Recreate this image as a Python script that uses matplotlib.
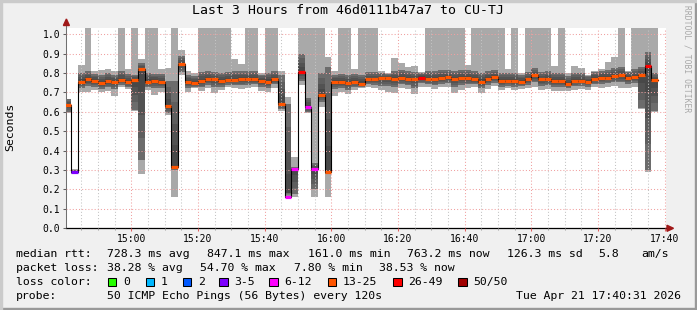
import numpy as np
import pandas as pd
import matplotlib
matplotlib.use("Agg")
import matplotlib.pyplot as plt
import matplotlib.dates as mdates
from matplotlib.ticker import MultipleLocator, FormatStrFormatter
from matplotlib.patches import Polygon, Rectangle

plt.rcParams['font.family'] = ['DejaVu Sans Mono']

# ---------------- data (seconds) ----------------
median = [0.636, 0.292, 0.756, 0.768, 0.761, 0.751, 0.760, 0.756, 0.766, 0.756,
          0.766, 0.820, 0.756, 0.760, 0.756, 0.632, 0.316, 0.847, 0.756, 0.749,
          0.760, 0.771, 0.768, 0.761, 0.766, 0.766, 0.771, 0.771, 0.771, 0.761,
          0.756, 0.771, 0.643, 0.161, 0.306, 0.808, 0.627, 0.306, 0.689, 0.292,
          0.756, 0.756, 0.751, 0.756, 0.746, 0.768, 0.768, 0.773, 0.777, 0.768,
          0.777, 0.771, 0.768, 0.777, 0.771, 0.771, 0.777, 0.780, 0.771, 0.777,
          0.777, 0.768, 0.756, 0.771, 0.780, 0.761, 0.761, 0.761, 0.756, 0.768,
          0.789, 0.768, 0.771, 0.761, 0.761, 0.746, 0.761, 0.761, 0.756, 0.771,
          0.777, 0.777, 0.785, 0.790, 0.777, 0.782, 0.790, 0.838, 0.763]

smoke_lo = [0.593, 0.278, 0.704, 0.704, 0.713, 0.704, 0.708, 0.684, 0.730, 0.718,
            0.605, 0.282, 0.713, 0.687, 0.704, 0.585, 0.163, 0.790, 0.704, 0.722,
            0.708, 0.722, 0.698, 0.713, 0.729, 0.722, 0.718, 0.722, 0.730, 0.708,
            0.704, 0.725, 0.605, 0.162, 0.162, 0.739, 0.593, 0.162, 0.627, 0.162,
            0.684, 0.704, 0.694, 0.713, 0.722, 0.730, 0.722, 0.713, 0.704, 0.698,
            0.722, 0.718, 0.692, 0.730, 0.730, 0.718, 0.730, 0.730, 0.698, 0.713,
            0.722, 0.729, 0.698, 0.718, 0.735, 0.713, 0.722, 0.713, 0.718, 0.722,
            0.729, 0.713, 0.718, 0.708, 0.708, 0.708, 0.711, 0.718, 0.713, 0.729,
            0.722, 0.729, 0.735, 0.725, 0.725, 0.730, 0.615, 0.289, 0.598]

# 1.10 = pings above the top of the chart
smoke_hi = [0.667, 0.305, 0.842, 1.10, 0.811, 0.816, 0.821, 0.811, 1.10, 0.821,
            1.10, 0.873, 1.10, 1.10, 0.821, 0.825, 1.10, 0.919, 0.811, 0.799,
            1.10, 1.10, 1.10, 1.10, 1.10, 0.873, 0.845, 1.10, 1.10, 0.799,
            1.10, 1.10, 0.811, 0.679, 0.369, 1.10, 1.10, 1.10, 1.10, 0.885,
            0.811, 1.10, 1.10, 0.821, 1.10, 1.10, 1.10, 0.811, 0.799, 0.880,
            0.854, 0.833, 0.838, 0.808, 1.10, 1.10, 1.10, 1.10, 1.10, 1.10,
            0.842, 1.10, 1.10, 1.10, 1.10, 1.10, 0.821, 1.10, 0.799, 1.10,
            1.10, 1.10, 1.10, 0.838, 1.10, 0.799, 0.838, 0.828, 0.790, 0.811,
            0.821, 0.856, 0.885, 1.10, 0.811, 1.10, 1.10, 1.10, 1.10]

core_lo = [0.600, 0.283, 0.725, 0.735, 0.730, 0.720, 0.728, 0.720, 0.740, 0.728,
           0.610, 0.350, 0.728, 0.725, 0.725, 0.595, 0.300, 0.805, 0.725, 0.730,
           0.728, 0.740, 0.730, 0.730, 0.740, 0.738, 0.738, 0.740, 0.742, 0.728,
           0.725, 0.742, 0.615, 0.180, 0.175, 0.760, 0.600, 0.200, 0.650, 0.280,
           0.720, 0.725, 0.715, 0.728, 0.730, 0.742, 0.740, 0.735, 0.735, 0.728,
           0.742, 0.738, 0.725, 0.748, 0.745, 0.738, 0.745, 0.748, 0.728, 0.738,
           0.742, 0.742, 0.725, 0.740, 0.750, 0.730, 0.735, 0.730, 0.732, 0.740,
           0.752, 0.735, 0.738, 0.728, 0.728, 0.725, 0.732, 0.735, 0.730, 0.745,
           0.745, 0.748, 0.752, 0.752, 0.745, 0.750, 0.620, 0.300, 0.605]

core_hi = [0.665, 0.300, 0.800, 0.810, 0.795, 0.790, 0.800, 0.790, 0.810, 0.795,
           0.790, 0.850, 0.800, 0.795, 0.795, 0.760, 0.760, 0.890, 0.790, 0.785,
           0.805, 0.810, 0.805, 0.800, 0.805, 0.810, 0.810, 0.810, 0.810, 0.790,
           0.800, 0.810, 0.790, 0.640, 0.315, 0.900, 0.670, 0.335, 0.800, 0.830,
           0.790, 0.795, 0.790, 0.795, 0.790, 0.805, 0.805, 0.800, 0.795, 0.810,
           0.815, 0.810, 0.805, 0.800, 0.810, 0.810, 0.815, 0.815, 0.810, 0.815,
           0.815, 0.810, 0.800, 0.810, 0.815, 0.800, 0.800, 0.800, 0.790, 0.805,
           0.825, 0.805, 0.810, 0.800, 0.800, 0.785, 0.800, 0.800, 0.785, 0.805,
           0.810, 0.815, 0.825, 0.830, 0.805, 0.820, 0.830, 0.910, 0.800]

loss_pct = [40, 7.8, 38, 42, 36, 38, 34, 38, 44, 36,
            46, 44, 40, 42, 36, 40, 48, 36, 34, 32,
            42, 44, 42, 44, 42, 38, 36, 42, 44, 32,
            42, 44, 36, 20, 16, 54.7, 22, 20, 44, 46,
            34, 40, 42, 36, 42, 44, 42, 34, 32, 38,
            36, 36, 38, 53, 44, 42, 44, 44, 42, 42,
            38, 44, 44, 42, 44, 42, 36, 42, 32, 42,
            44, 42, 44, 36, 40, 32, 36, 36, 30, 34,
            36, 38, 40, 44, 34, 44, 46, 52, 38.53]

loss_labels = ["0", "1", "2", "3-5", "6-12", "13-25", "26-49", "50/50"]
loss_colors = ["#26ff00", "#00b8ff", "#0059ff", "#7e00ff", "#ff00ff",
               "#ff5500", "#ff0000", "#a10000"]
loss_bounds = [0, 1, 2, 5, 12, 25, 49, 50]   # upper bound of lost pings per class

title = "Last 3 Hours from 46d0111b47a7 to CU-TJ"
stat_line1 = [("median rtt:", 16), ("728.3 ms avg", 107.3), ("847.1 ms max", 207.3),
              ("161.0 ms min", 307.5), ("763.2 ms now", 407.5), ("126.3 ms sd", 507.0),
              ("5.8", 598.3), ("am/s", 641.7)]
stat_line2 = [("packet loss:", 16), ("38.28 % avg", 107.3), ("54.70 % max", 200.0),
              ("7.80 % min", 293.5), ("38.53 % now", 379.3)]
probe_text = "50 ICMP Echo Pings (56 Bytes) every 120s"
stamp_text = "Tue Apr 21 17:40:31 2026"

# ---------------- figure ----------------
W, H = 697, 310
def fx(px): return px / W
def fy(py): return 1 - py / H

fig = plt.figure(figsize=(W / 100, H / 100), dpi=100, facecolor="#f0f0f0")
ax_l, ax_r, ax_t, ax_b = 66.4, 666.4, 27.7, 228.3
ax = fig.add_axes([fx(ax_l), fy(ax_b), (ax_r - ax_l) / W, (ax_b - ax_t) / H])
ax.set_facecolor("white")

step_start = pd.date_range("2026-04-21 14:40:00", periods=len(median), freq="2min")
x = mdates.date2num(step_start.to_pydatetime())
w = 2.0 / 1440.0

med = np.array(median)
lo = np.array(smoke_lo)
hi = np.minimum(np.array(smoke_hi), 1.2)
clo = np.array(core_lo)
chi = np.array(core_hi)

# smoke: outer envelope, dark core, gradient towards the median
ax.bar(x, hi - lo, bottom=lo, width=w, align="edge", color="#a9a9a9",
       linewidth=0, antialiased=False, zorder=1)
ax.bar(x, chi - clo, bottom=clo, width=w, align="edge", color="black", alpha=0.36,
       linewidth=0, antialiased=False, zorder=1.1)
for f in [0.75, 0.5, 0.25]:
    b = med - f * (med - clo)
    t = med + f * (chi - med)
    ax.bar(x, t - b, bottom=b, width=w, align="edge", color="black", alpha=0.12,
           linewidth=0, antialiased=False, zorder=1.2)

# median line
xs = np.append(x, x[-1] + w)
ax.step(xs, np.append(med, med[-1]), where="post", color="black", lw=0.8, zorder=3)
lost = np.rint(np.array(loss_pct) * 50 / 100).astype(int)
cols = []
for n in lost:
    for bound, c in zip(loss_bounds, loss_colors):
        if n <= bound:
            cols.append(c)
            break
ax.hlines(med, x, x + w, colors=cols, lw=2.3, zorder=4, capstyle="butt")

# axes
t0 = mdates.date2num(pd.Timestamp("2026-04-21 14:40:31").to_pydatetime())
t1 = mdates.date2num(pd.Timestamp("2026-04-21 17:40:31").to_pydatetime())
ax.set_xlim(t0, t1)
ax.set_ylim(0, 1.034)

ax.xaxis.set_major_locator(mdates.MinuteLocator(byminute=[0, 20, 40]))
ax.xaxis.set_minor_locator(mdates.MinuteLocator(byminute=range(0, 60, 5)))
ax.xaxis.set_major_formatter(mdates.DateFormatter("%H:%M"))
ax.yaxis.set_major_locator(MultipleLocator(0.1))
ax.yaxis.set_major_formatter(FormatStrFormatter("%.1f"))

ax.set_axisbelow(False)
ax.grid(which="major", axis="both", color="#f0a0a0", ls=(0, (1, 2)), lw=0.75, zorder=2.5)
ax.grid(which="minor", axis="x", color="#c4c4c4", ls=(0, (1, 2)), lw=0.75, zorder=2.5)

ax.tick_params(axis="x", which="major", direction="out", length=2.2, width=0.75,
               color="#e06060", labelsize=7, pad=2.2)
ax.tick_params(axis="x", which="minor", direction="out", length=1.6, width=0.75,
               color="#a0a0a0")
ax.tick_params(axis="y", which="major", direction="out", length=2.2, width=0.75,
               color="#606060", labelsize=7, pad=2.4)

for s in ["top", "right"]:
    ax.spines[s].set_visible(False)
ax.spines["left"].set_color("#707070")
ax.spines["left"].set_linewidth(0.75)
ax.spines["bottom"].set_color("black")
ax.spines["bottom"].set_linewidth(0.9)

# arrows
arrow_col = "#a01818"
fig.patches.append(Polygon([(fx(63.4), fy(25.5)), (fx(69.4), fy(25.5)), (fx(66.4), fy(19.0))],
                           closed=True, transform=fig.transFigure, color=arrow_col, zorder=5))
fig.patches.append(Polygon([(fx(667.0), fy(225.3)), (fx(667.0), fy(231.3)), (fx(673.5), fy(228.3))],
                           closed=True, transform=fig.transFigure, color=arrow_col, zorder=5))
fig.add_artist(plt.Line2D([fx(66.4), fx(66.4)], [fy(27.7), fy(25.5)], color="#707070",
                          lw=0.75, transform=fig.transFigure))
fig.add_artist(plt.Line2D([fx(666.4), fx(667.5)], [fy(228.3), fy(228.3)], color="black",
                          lw=0.9, transform=fig.transFigure))

# texts
fig.text(fx(348.5), fy(11), title, ha="center", va="center", fontsize=9.5)
fig.text(fx(10), fy(127), "Seconds", rotation=90, ha="center", va="center", fontsize=8.25)
fig.text(fx(687.5), fy(5), "RRDTOOL / TOBI OETIKER", rotation=270, ha="center", va="top",
         fontsize=5.8, color="#a8a8a8")

fs = 8.25
for txt, px in stat_line1:
    fig.text(fx(px), fy(254.3), txt, ha="left", va="center", fontsize=fs)
for txt, px in stat_line2:
    fig.text(fx(px), fy(268.3), txt, ha="left", va="center", fontsize=fs)

fig.text(fx(16), fy(282.3), "loss color:", ha="left", va="center", fontsize=fs)
box_x = [108.3, 145.7, 182.7, 219.3, 269.3, 327.6, 393.3, 458.3]
for bx, lab, c in zip(box_x, loss_labels, loss_colors):
    fig.patches.append(Rectangle((fx(bx), fy(286.4)), 8.2 / W, 8.2 / H, facecolor=c,
                                 edgecolor="black", lw=0.75, transform=fig.transFigure))
    fig.text(fx(bx + 15), fy(282.3), lab, ha="left", va="center", fontsize=fs)

fig.text(fx(16), fy(296), "probe:", ha="left", va="center", fontsize=fs)
fig.text(fx(107.3), fy(296), probe_text, ha="left", va="center", fontsize=fs)
fig.text(fx(680.5), fy(296), stamp_text, ha="right", va="center", fontsize=fs)

# 3D frame
fig.patches.append(Rectangle((0, 0), 1, 2 / H, color="#999999", transform=fig.transFigure))
fig.patches.append(Rectangle((1 - 2 / W, 0), 2 / W, 1, color="#999999", transform=fig.transFigure))
fig.patches.append(Rectangle((0, 1 - 2 / H), 1, 2 / H, color="#cbcbcb", transform=fig.transFigure))
fig.patches.append(Rectangle((0, 0), 2 / W, 1, color="#cbcbcb", transform=fig.transFigure))

fig.savefig("out.png", dpi=100, facecolor=fig.get_facecolor())
